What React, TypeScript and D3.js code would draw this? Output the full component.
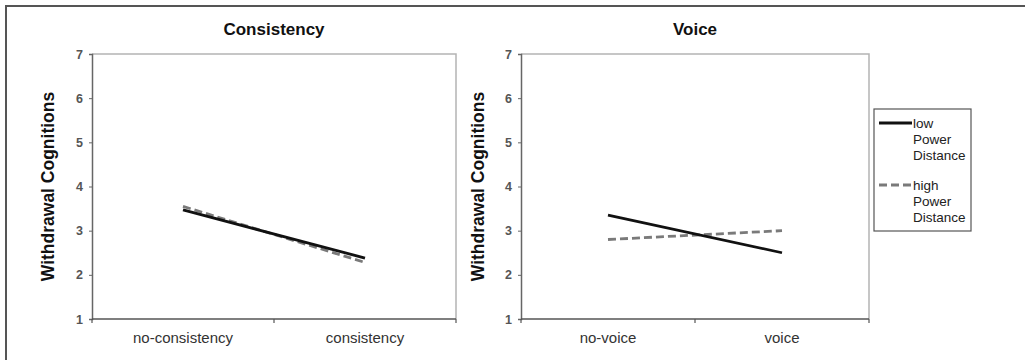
import React, { useEffect, useRef } from "react";
import * as d3 from "d3";

const yTicks = [1, 2, 3, 4, 5, 6, 7];
const consistencyCats = ["no-consistency", "consistency"];
const consistencyLow = [3.47, 2.38];
const consistencyHigh = [3.55, 2.28];
const voiceCats = ["no-voice", "voice"];
const voiceLow = [3.35, 2.5];
const voiceHigh = [2.8, 3.0];
const legendLabels = [["low", "Power", "Distance"], ["high", "Power", "Distance"]];

const FONT = "'Liberation Sans', Arial, sans-serif";

function drawPanel(svg, opts) {
  const { left, right, top, bottom, title, cats, low, high, yLabelX } = opts;

  const x = d3.scaleBand().domain(cats).range([left, right]).padding(0);
  const y = d3.scaleLinear().domain([1, 7]).range([bottom, top]);

  // plot frame (light top/right)
  svg.append("path")
    .attr("d", `M${left},${top}H${right}V${bottom}`)
    .attr("fill", "none")
    .attr("stroke", "#b4b4b4")
    .attr("stroke-width", 1.5);

  // y axis
  const yAxis = svg.append("g")
    .attr("transform", `translate(${left},0)`)
    .call(d3.axisLeft(y).tickValues(yTicks).tickFormat(d3.format("d")).tickSize(3).tickPadding(6));
  yAxis.select(".domain").attr("stroke", "#666").attr("stroke-width", 1.5);
  yAxis.selectAll(".tick line").attr("stroke", "#666");
  yAxis.selectAll(".tick text")
    .attr("fill", "#555")
    .style("font-family", FONT)
    .style("font-size", "12.5px")
    .style("font-weight", "bold");

  // x axis, ticks on band edges
  const edges = [left, ...cats.map((c) => (x(c) ?? 0) + x.bandwidth())];
  svg.append("line")
    .attr("x1", left).attr("x2", right)
    .attr("y1", bottom).attr("y2", bottom)
    .attr("stroke", "#555").attr("stroke-width", 1.5);
  svg.selectAll(null)
    .data(edges)
    .enter().append("line")
    .attr("x1", (d) => d).attr("x2", (d) => d)
    .attr("y1", bottom).attr("y2", bottom + 4)
    .attr("stroke", "#555").attr("stroke-width", 1.2);
  svg.selectAll(null)
    .data(cats)
    .enter().append("text")
    .attr("x", (d) => (x(d) ?? 0) + x.bandwidth() / 2)
    .attr("y", bottom + 24)
    .attr("text-anchor", "middle")
    .style("font-family", FONT)
    .style("font-size", "15px")
    .attr("fill", "#333")
    .text((d) => d);

  // title
  svg.append("text")
    .attr("x", (left + right) / 2)
    .attr("y", 35)
    .attr("text-anchor", "middle")
    .style("font-family", FONT)
    .style("font-size", "17px")
    .style("font-weight", "bold")
    .attr("fill", "#111")
    .text(title);

  // y label
  svg.append("text")
    .attr("transform", `translate(${yLabelX},${(top + bottom) / 2}) rotate(-90)`)
    .attr("text-anchor", "middle")
    .style("font-family", FONT)
    .style("font-size", "17.5px")
    .style("font-weight", "bold")
    .attr("fill", "#111")
    .text("Withdrawal Cognitions");

  const line = d3.line()
    .x((d, i) => (x(cats[i]) ?? 0) + x.bandwidth() / 2)
    .y((d) => y(d));

  svg.append("path")
    .datum(high)
    .attr("d", line)
    .attr("fill", "none")
    .attr("stroke", "#7a7a7a")
    .attr("stroke-width", 2.8)
    .attr("stroke-dasharray", "8,4");

  svg.append("path")
    .datum(low)
    .attr("d", line)
    .attr("fill", "none")
    .attr("stroke", "#111")
    .attr("stroke-width", 2.8);
}

function App() {
  const ref = useRef(null);

  useEffect(() => {
    const svg = d3.select(ref.current);
    svg.selectAll("*").remove();

    // outer border (only top/left visible in crop)
    svg.append("path")
      .attr("d", "M6,370V6H1035")
      .attr("fill", "none")
      .attr("stroke", "#555")
      .attr("stroke-width", 2);

    drawPanel(svg, {
      left: 92, right: 456, top: 54, bottom: 319,
      title: "Consistency", cats: consistencyCats,
      low: consistencyLow, high: consistencyHigh, yLabelX: 54,
    });
    drawPanel(svg, {
      left: 521, right: 869, top: 54, bottom: 319,
      title: "Voice", cats: voiceCats,
      low: voiceLow, high: voiceHigh, yLabelX: 484,
    });

    // legend
    const lg = svg.append("g");
    lg.append("rect")
      .attr("x", 874).attr("y", 109)
      .attr("width", 97).attr("height", 122)
      .attr("fill", "#fff")
      .attr("stroke", "#555")
      .attr("stroke-width", 1.2);

    legendLabels.forEach((lines, i) => {
      const y0 = 123 + i * 62;
      lg.append("line")
        .attr("x1", 879).attr("x2", 912)
        .attr("y1", y0).attr("y2", y0)
        .attr("stroke", i === 0 ? "#111" : "#7a7a7a")
        .attr("stroke-width", 2.8)
        .attr("stroke-dasharray", i === 0 ? null : "8,4");
      lines.forEach((t, j) => {
        lg.append("text")
          .attr("x", 913)
          .attr("y", y0 + 5 + j * 16)
          .style("font-family", FONT)
          .style("font-size", "13.5px")
          .attr("fill", "#222")
          .text(t);
      });
    });
  }, []);

  return (
    <svg
      ref={ref}
      width={1025}
      height={360}
      style={{ position: "absolute", left: 0, top: 0, background: "#fff" }}
    />
  );
}

export default App;
